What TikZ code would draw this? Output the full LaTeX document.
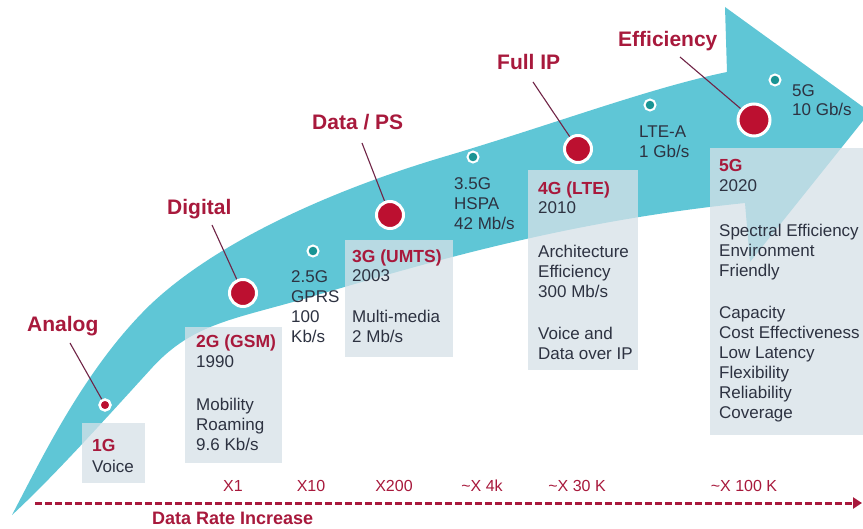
\documentclass[tikz,border=0pt]{standalone}
\usepackage{fontspec}
\setmainfont{Liberation Sans}
\usetikzlibrary{arrows.meta}
\definecolor{bandc}{RGB}{95,198,214}
\definecolor{boxc}{RGB}{214,225,232}
\definecolor{redtxt}{RGB}{168,25,60}
\definecolor{reddot}{RGB}{188,16,48}
\definecolor{tealdot}{RGB}{25,148,148}
\definecolor{leaderc}{RGB}{112,36,70}
\definecolor{darktxt}{RGB}{45,50,65}
\begin{document}
\begin{tikzpicture}[x=1pt,y=-1pt,
  boxst/.style={fill=boxc, fill opacity=.75, inner sep=0pt, anchor=north west},
  bigdot/.style={circle, fill=reddot, draw=white, line width=3pt, inner sep=0pt, minimum size=#1},
  smalldot/.style={circle, fill=tealdot, draw=white, line width=2pt, inner sep=0pt, minimum size=11pt},
  biglbl/.style={anchor=base west, inner sep=0pt, text=redtxt, font=\fontsize{21}{24}\selectfont\bfseries},
  sub/.style={anchor=base west, inner sep=0pt, text=redtxt, font=\fontsize{17.5}{20}\selectfont\bfseries},
  txt/.style={anchor=base west, inner sep=0pt, text=darktxt, font=\fontsize{17}{20}\selectfont},
  rate/.style={anchor=base, inner sep=0pt, text=redtxt, font=\fontsize{16}{18}\selectfont},
  leader/.style={draw=leaderc, line width=1.1pt},
  axisline/.style={draw=redtxt, line width=3pt, dash pattern=on 7pt off 3pt, -{Triangle[length=9pt,width=11pt]}}
]
\useasboundingbox (0,0) rectangle (863,529);
\fill[white] (0,0) rectangle (863,529);
% big curved arrow
\begin{scope}
\clip (0,0) rectangle (863,529);
\fill[bandc] (12,515) .. controls (42,458) and (85,368) .. (150,305)
  .. controls (215,243) and (330,190) .. (450,155)
  .. controls (560,122) and (650,88) .. (727,72)
  -- (725,7) -- (870,112) -- (750,262) -- (745,203)
  .. controls (560,222) and (420,265) .. (300,300)
  .. controls (230,320) and (190,325) .. (150,370)
  .. controls (100,425) and (50,480) .. (12,515) -- cycle;
\end{scope}
% boxes
\node[boxst, minimum width=63pt, minimum height=60pt] (box1) at (82,423) {};
\node[boxst, minimum width=97pt, minimum height=136pt] (box2) at (185,327) {};
\node[boxst, minimum width=108pt, minimum height=117pt] (box3) at (345,240) {};
\node[boxst, minimum width=110pt, minimum height=200pt] (box4) at (528,170) {};
\node[boxst, minimum width=153pt, minimum height=287pt] (box5) at (710,148) {};
% big labels
\node[biglbl] (lAnalog) at (27,332) {Analog};
\node[biglbl] (lDigital) at (167,215) {Digital};
\node[biglbl] (lData) at (312,130) {Data / PS};
\node[biglbl] (lFull) at (497,70) {Full IP};
\node[biglbl] (lEff) at (618,47) {Efficiency};
% leader start points
\coordinate (cA) at (70,343);
\coordinate (cD) at (212,225);
\coordinate (cP) at (362,143);
\coordinate (cF) at (533,82);
\coordinate (cE) at (680,57);
% dots positions
\coordinate (pA) at (105,405);
\coordinate (pD) at (243,293);
\coordinate (pP) at (390,215);
\coordinate (pF) at (578,149);
\coordinate (pE) at (754,120);
\draw[leader] (cA) -- (pA);
\draw[leader] (cD) -- (pD);
\draw[leader] (cP) -- (pP);
\draw[leader] (cF) -- (pF);
\draw[leader] (cE) -- (pE);
\node[bigdot=11pt, line width=2.5pt] (dA) at (pA) {};
\node[bigdot=27pt] (dD) at (pD) {};
\node[bigdot=27pt] (dP) at (pP) {};
\node[bigdot=27pt] (dF) at (pF) {};
\node[bigdot=32pt] (dE) at (pE) {};
\node[smalldot] (s25) at (313,251) {};
\node[smalldot] (s35) at (473,157) {};
\node[smalldot] (sLA) at (650,105) {};
\node[smalldot] (s5G) at (775,80) {};
% 1G
\node[sub] (t1a) at (92,452) {1G};
\node[txt] (t1b) at (92,472) {Voice};
% 2G
\node[sub] (t2a) at (196,348) {2G (GSM)};
\node[txt] (t2b) at (196,368) {1990};
\node[txt] (t2c) at (196,411) {Mobility};
\node[txt] (t2d) at (196,431) {Roaming};
\node[txt] (t2e) at (196,451) {9.6 Kb/s};
% 2.5G
\node[txt] (t25a) at (291,283) {2.5G};
\node[txt] (t25b) at (291,303) {GPRS};
\node[txt] (t25c) at (291,323) {100};
\node[txt] (t25d) at (291,343) {Kb/s};
% 3G
\node[sub] (t3a) at (352,263) {3G (UMTS)};
\node[txt] (t3b) at (352,282) {2003};
\node[txt] (t3c) at (352,323) {Multi-media};
\node[txt] (t3d) at (352,343) {2 Mb/s};
% 3.5G
\node[txt] (t35a) at (454,190) {3.5G};
\node[txt] (t35b) at (454,210) {HSPA};
\node[txt] (t35c) at (454,230) {42 Mb/s};
% 4G
\node[sub] (t4a) at (538,195) {4G (LTE)};
\node[txt] (t4b) at (538,214) {2010};
\node[txt] (t4c) at (538,258) {Architecture};
\node[txt] (t4d) at (538,278) {Efficiency};
\node[txt] (t4e) at (538,298) {300 Mb/s};
\node[txt] (t4f) at (538,340) {Voice and};
\node[txt] (t4g) at (538,360) {Data over IP};
% LTE-A
\node[txt] (tLa) at (639,138) {LTE-A};
\node[txt] (tLb) at (639,158) {1 Gb/s};
% 5G small
\node[txt] (t5sa) at (792,97) {5G};
\node[txt] (t5sb) at (792,116) {10 Gb/s};
% 5G box
\node[sub] (t5a) at (719,172) {5G};
\node[txt] (t5b) at (719,192) {2020};
\node[txt] (t5c) at (719,237) {Spectral Efficiency};
\node[txt] (t5d) at (719,257) {Environment};
\node[txt] (t5e) at (719,277) {Friendly};
\node[txt] (t5f) at (719,319) {Capacity};
\node[txt] (t5g) at (719,339) {Cost Effectiveness};
\node[txt] (t5h) at (719,359) {Low Latency};
\node[txt] (t5i) at (719,379) {Flexibility};
\node[txt] (t5j) at (719,399) {Reliability};
\node[txt] (t5k) at (719,419) {Coverage};
% axis
\coordinate (ax0) at (35,503);
\coordinate (ax1) at (862,503);
\draw[axisline] (ax0) -- (ax1);
\node[rate] (r1) at (233,492) {X1};
\node[rate] (r2) at (311,492) {X10};
\node[rate] (r3) at (394,492) {X200};
\node[rate] (r4) at (482,492) {\textasciitilde X 4k};
\node[rate] (r5) at (577,492) {\textasciitilde X 30 K};
\node[rate] (r6) at (744,492) {\textasciitilde X 100 K};
\node[anchor=base west, inner sep=0pt, text=redtxt, font=\fontsize{18}{20}\selectfont\bfseries] (rlbl) at (152,524) {Data Rate Increase};
\end{tikzpicture}
\end{document}
